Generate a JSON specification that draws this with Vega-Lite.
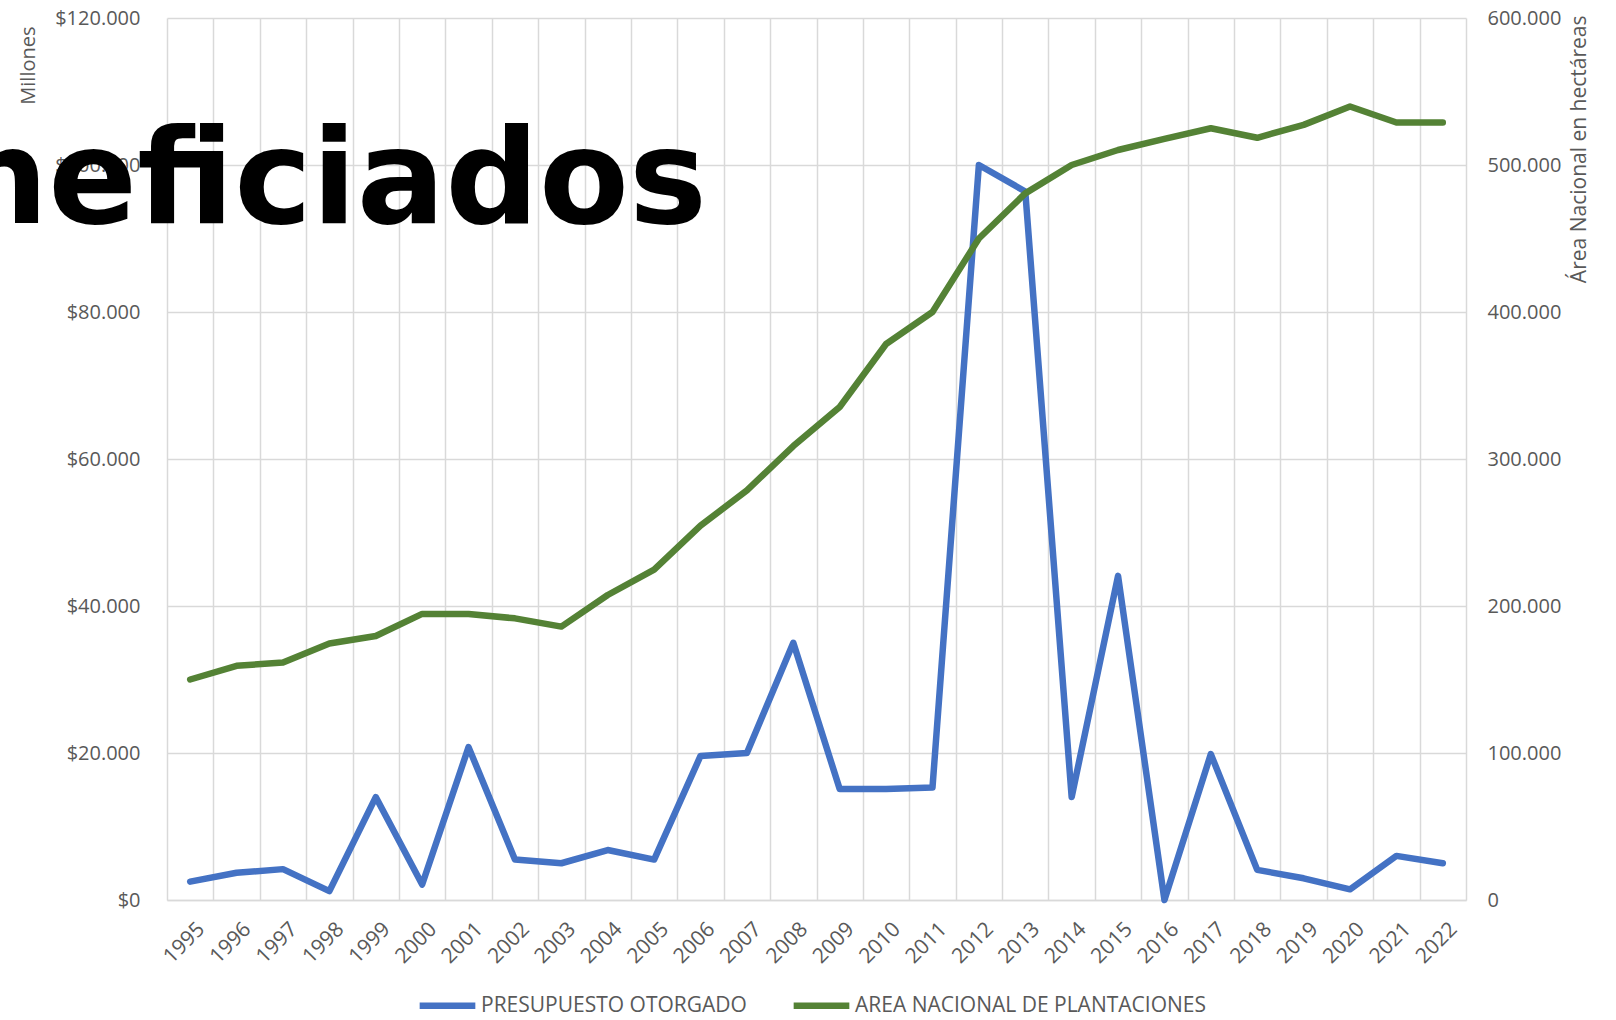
{
  "$schema": "https://vega.github.io/schema/vega-lite/v6.json",
  "autosize": "none",
  "width": 1299,
  "height": 882,
  "padding": {"left": 167, "top": 18, "right": 150, "bottom": 120},
  "background": "white",
  "title": {
    "text": "neficiados",
    "font": "DejaVu Sans",
    "fontWeight": "bold",
    "fontSize": 131,
    "color": "#000000",
    "anchor": "start",
    "frame": "group",
    "orient": "top",
    "baseline": "alphabetic",
    "offset": 0,
    "dx": -212,
    "dy": 346
  },
  "data": {
    "values": [
      {"year": "1995", "presupuesto": 2500, "area": 150000},
      {"year": "1996", "presupuesto": 3700, "area": 159300},
      {"year": "1997", "presupuesto": 4200, "area": 161500},
      {"year": "1998", "presupuesto": 1200, "area": 174500},
      {"year": "1999", "presupuesto": 14000, "area": 179600},
      {"year": "2000", "presupuesto": 2100, "area": 194600},
      {"year": "2001", "presupuesto": 20800, "area": 194600},
      {"year": "2002", "presupuesto": 5500, "area": 191600},
      {"year": "2003", "presupuesto": 5000, "area": 186000},
      {"year": "2004", "presupuesto": 6800, "area": 207500},
      {"year": "2005", "presupuesto": 5500, "area": 224800},
      {"year": "2006", "presupuesto": 19600, "area": 254700},
      {"year": "2007", "presupuesto": 20000, "area": 278600},
      {"year": "2008", "presupuesto": 35000, "area": 308800},
      {"year": "2009", "presupuesto": 15100, "area": 335400},
      {"year": "2010", "presupuesto": 15100, "area": 378200},
      {"year": "2011", "presupuesto": 15300, "area": 400000},
      {"year": "2012", "presupuesto": 100000, "area": 450000},
      {"year": "2013", "presupuesto": 96400, "area": 480700},
      {"year": "2014", "presupuesto": 14000, "area": 500000},
      {"year": "2015", "presupuesto": 44100, "area": 510200},
      {"year": "2016", "presupuesto": 0, "area": 517800},
      {"year": "2017", "presupuesto": 19850, "area": 525000},
      {"year": "2018", "presupuesto": 4100, "area": 518500},
      {"year": "2019", "presupuesto": 2950, "area": 527300},
      {"year": "2020", "presupuesto": 1450, "area": 539800},
      {"year": "2021", "presupuesto": 6000, "area": 528900},
      {"year": "2022", "presupuesto": 5000, "area": 528900}
    ]
  },
  "encoding": {
    "x": {
      "field": "year",
      "type": "ordinal",
      "bandPosition": 0.5,
      "scale": {"type": "band", "paddingInner": 0, "paddingOuter": 0},
      "axis": {
        "title": null,
        "labelAngle": -45,
        "labelFont": "Open Sans",
        "labelFontSize": 21,
        "labelColor": "#595959",
        "labelPadding": 18,
        "labelOffset": 3,
        "ticks": false,
        "grid": true,
        "tickBand": "extent",
        "gridColor": "#D9D9D9",
        "gridWidth": 1.5,
        "domain": true,
        "domainColor": "#D9D9D9",
        "domainWidth": 1.5
      }
    }
  },
  "layer": [
    {
      "mark": {"type": "line", "strokeWidth": 6.5, "strokeCap": "round", "strokeJoin": "round"},
      "encoding": {
        "y": {
          "field": "presupuesto",
          "type": "quantitative",
          "scale": {"domain": [0, 120000], "nice": false, "zero": true},
          "axis": {
            "orient": "left",
            "values": [0, 20000, 40000, 60000, 80000, 100000, 120000],
            "format": "$,.0f",
            "grid": true,
            "gridColor": "#D9D9D9",
            "gridWidth": 1.5,
            "domain": false,
            "ticks": false,
            "labelFont": "Open Sans",
            "labelFontSize": 20,
            "labelColor": "#595959",
            "labelPadding": 27,
            "title": "Millones",
            "titleFont": "Open Sans",
            "titleFontSize": 20,
            "titleFontWeight": "normal",
            "titleColor": "#595959",
            "titleAnchor": "end",
            "titleY": 8,
            "titlePadding": 16
          }
        },
        "color": {
          "datum": "PRESUPUESTO OTORGADO",
          "type": "nominal",
          "scale": {
            "domain": ["PRESUPUESTO OTORGADO", "AREA NACIONAL DE PLANTACIONES"],
            "range": ["#4472C4", "#548235"]
          },
          "legend": {
            "title": null,
            "orient": "none",
            "legendX": 249,
            "legendY": 956,
            "direction": "horizontal",
            "symbolType": "stroke",
            "symbolStrokeWidth": 6.5,
            "symbolSize": 3100,
            "labelFont": "Open Sans",
            "labelFontSize": 21,
            "labelColor": "#595959",
            "labelLimit": 0,
            "labelOffset": 2,
            "columnPadding": 33
          }
        }
      }
    },
    {
      "mark": {"type": "line", "strokeWidth": 6.5, "strokeCap": "round", "strokeJoin": "round"},
      "encoding": {
        "y": {
          "field": "area",
          "type": "quantitative",
          "scale": {"domain": [0, 600000], "nice": false, "zero": true},
          "axis": {
            "orient": "right",
            "values": [0, 100000, 200000, 300000, 400000, 500000, 600000],
            "format": ",.0f",
            "grid": false,
            "domain": false,
            "ticks": false,
            "labelFont": "Open Sans",
            "labelFontSize": 20,
            "labelColor": "#595959",
            "labelPadding": 21,
            "title": "Área Nacional en hectáreas",
            "titleFont": "Open Sans",
            "titleFontSize": 21,
            "titleFontWeight": "normal",
            "titleColor": "#595959",
            "titleAngle": -90,
            "titleAnchor": "end",
            "titleBaseline": "top",
            "titleY": -3,
            "titlePadding": 8
          }
        },
        "color": {"datum": "AREA NACIONAL DE PLANTACIONES", "type": "nominal"}
      }
    }
  ],
  "resolve": {"scale": {"y": "independent"}},
  "config": {
    "locale": {
      "number": {"decimal": ",", "thousands": ".", "grouping": [3], "currency": ["$", ""]}
    },
    "view": {"stroke": null}
  }
}
